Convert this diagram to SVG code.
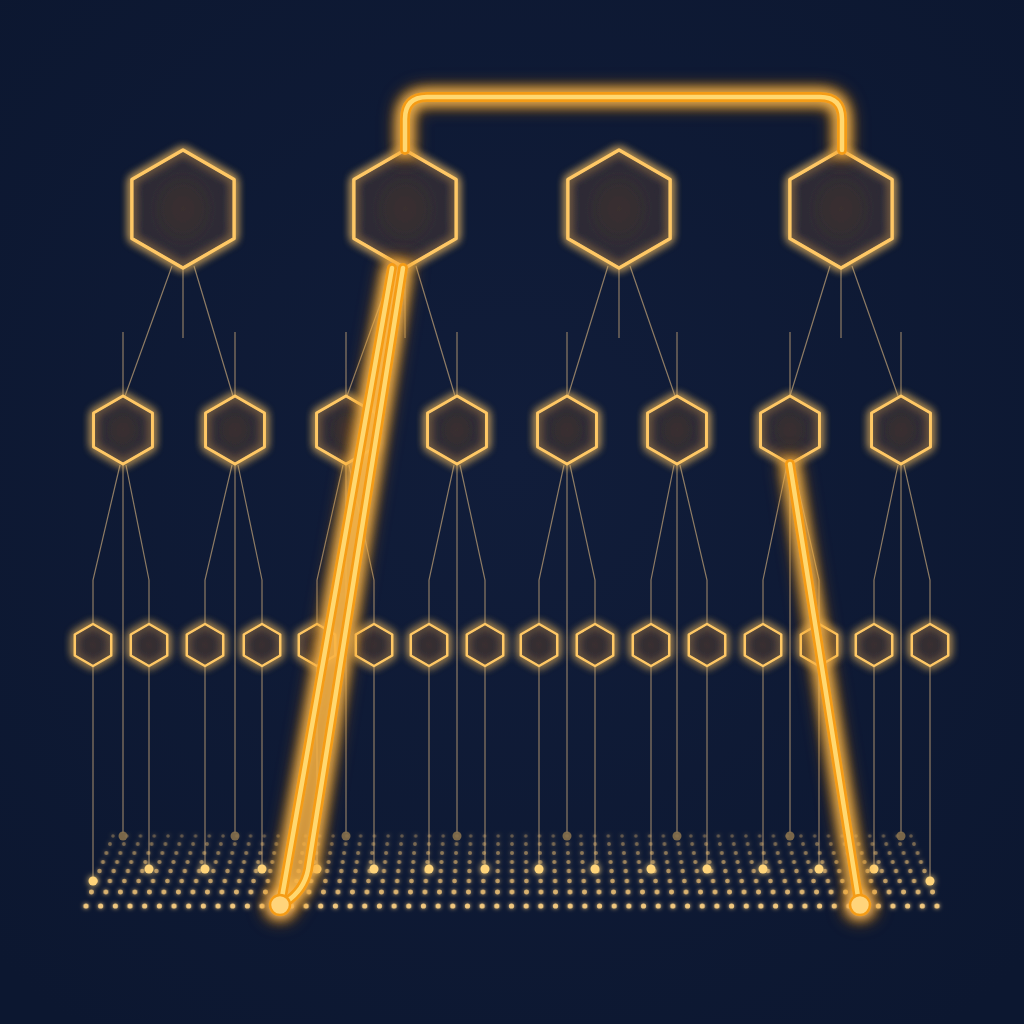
<svg xmlns="http://www.w3.org/2000/svg" width="1024" height="1024" viewBox="0 0 1024 1024">
<defs>
<radialGradient id="bg" cx="50%" cy="45%" r="70%"><stop offset="0" stop-color="#111d3a"/><stop offset="1" stop-color="#0c1730"/></radialGradient>
<radialGradient id="hexfill" cx="50%" cy="50%" r="50%"><stop offset="0" stop-color="#3a3030" stop-opacity="0.85"/><stop offset="1" stop-color="#2a2a38" stop-opacity="0.7"/></radialGradient>
<filter id="glow" x="-50%" y="-50%" width="200%" height="200%"><feGaussianBlur in="SourceGraphic" stdDeviation="5" result="b"/><feMerge><feMergeNode in="b"/><feMergeNode in="b"/><feMergeNode in="SourceGraphic"/></feMerge></filter>
<filter id="glowD" x="-100%" y="-100%" width="300%" height="300%"><feGaussianBlur in="SourceGraphic" stdDeviation="3" result="b"/><feMerge><feMergeNode in="b"/><feMergeNode in="SourceGraphic"/></feMerge></filter>
<filter id="glowS" x="-50%" y="-50%" width="200%" height="200%"><feGaussianBlur in="SourceGraphic" stdDeviation="7" result="b"/><feMerge><feMergeNode in="b"/><feMergeNode in="b"/><feMergeNode in="SourceGraphic"/></feMerge></filter>
<filter id="halo" x="-50%" y="-50%" width="200%" height="200%"><feGaussianBlur in="SourceGraphic" stdDeviation="9"/></filter>
<filter id="soft" x="-10%" y="-100%" width="120%" height="300%"><feGaussianBlur in="SourceGraphic" stdDeviation="2" result="b"/><feMerge><feMergeNode in="b"/><feMergeNode in="SourceGraphic"/></feMerge></filter>
<path id="hL" d="M0,-59 L51.1,-29.5 L51.1,29.5 L0,59 L-51.1,29.5 L-51.1,-29.5 Z"/>
<path id="hM" d="M0,-34 L29.44,-17 L29.44,17 L0,34 L-29.44,17 L-29.44,-17 Z"/>
<path id="hS" d="M0,-21 L18.19,-10.5 L18.19,10.5 L0,21 L-18.19,10.5 L-18.19,-10.5 Z"/>
<pattern id="r0" patternUnits="userSpaceOnUse" x="106.12" y="831" width="13.759" height="10"><circle cx="6.88" cy="5" r="1.8" fill="#f2c274"/></pattern>
<pattern id="r1" patternUnits="userSpaceOnUse" x="103.07" y="839" width="13.862" height="10"><circle cx="6.93" cy="5" r="1.9" fill="#f2c274"/></pattern>
<pattern id="r2" patternUnits="userSpaceOnUse" x="99.41" y="848" width="13.986" height="10"><circle cx="6.99" cy="5" r="2" fill="#f2c274"/></pattern>
<pattern id="r3" patternUnits="userSpaceOnUse" x="95.95" y="857" width="14.103" height="10"><circle cx="7.05" cy="5" r="2.1" fill="#f2c274"/></pattern>
<pattern id="r4" patternUnits="userSpaceOnUse" x="92.39" y="866" width="14.224" height="10"><circle cx="7.11" cy="5" r="2.2" fill="#f2c274"/></pattern>
<pattern id="r5" patternUnits="userSpaceOnUse" x="88.42" y="876" width="14.359" height="10"><circle cx="7.18" cy="5" r="2.3" fill="#f2c274"/></pattern>
<pattern id="r6" patternUnits="userSpaceOnUse" x="84.15" y="887" width="14.503" height="10"><circle cx="7.25" cy="5" r="2.45" fill="#f4c678"/></pattern>
<pattern id="r7" patternUnits="userSpaceOnUse" x="78.66" y="901" width="14.672" height="10"><circle cx="7.34" cy="5" r="2.6" fill="#f7cc80"/></pattern>
</defs>
<style>
.hex{fill:url(#hexfill);stroke:#ffc865;stroke-linejoin:round}
.big{stroke-width:3.5}
.med{stroke-width:3}
.sml{stroke-width:2.5}
.thin{stroke:#b89c74;stroke-width:1.2;fill:none;stroke-opacity:0.75}
.hot{fill:#ffd47a}
.dim{fill:#8c744e}
.strH{stroke:#f28c0c;stroke-width:18;fill:none;stroke-linecap:round;stroke-linejoin:round;stroke-opacity:0.55}
.strO{stroke:#f59c16;stroke-width:10;fill:none;stroke-linecap:round;stroke-linejoin:round}
.strI{stroke:#ffd870;stroke-width:4.5;fill:none;stroke-linecap:round;stroke-linejoin:round}
</style>
<rect width="1024" height="1024" fill="url(#bg)"/>

<g id="connectors">
<g class="thin">
<path d="M172,266 L125,396 M194,266 L233,396 M183,268 L183,338"/>
<path d="M394,266 L347,396 M416,266 L455,396 M405,268 L405,338"/>
<path d="M608,266 L568,396 M630,266 L675,396 M619,268 L619,338"/>
<path d="M830,266 L790,396 M852,266 L898,396 M841,268 L841,338"/>
<path d="M123,332 V396 M235,332 V396 M346,332 V396 M457,332 V396 M567,332 V396 M677,332 V396 M790,332 V396 M901,332 V396"/>
<path d="M123,464 V833 M235,464 V833 M346,464 V833 M457,464 V833 M567,464 V833 M677,464 V833 M790,464 V833 M901,464 V833"/>
<path d="M120,465 L93,580 V624 M126,465 L149,580 V624"/>
<path d="M232,465 L205,580 V624 M238,465 L262,580 V624"/>
<path d="M343,465 L317,580 V624 M349,465 L374,580 V624"/>
<path d="M454,465 L429,580 V624 M460,465 L485,580 V624"/>
<path d="M564,465 L539,580 V624 M570,465 L595,580 V624"/>
<path d="M674,465 L651,580 V624 M680,465 L707,580 V624"/>
<path d="M787,465 L763,580 V624 M793,465 L819,580 V624"/>
<path d="M898,465 L874,580 V624 M904,465 L930,580 V624"/>
<path d="M93,666 V878 M149,666 V866 M205,666 V866 M262,666 V866 M317,666 V866 M374,666 V866 M429,666 V866 M485,666 V866 M539,666 V866 M595,666 V866 M651,666 V866 M707,666 V866 M763,666 V866 M819,666 V866 M874,666 V866 M930,666 V878"/>
</g>
</g>

<g id="grid" filter="url(#soft)">
<rect x="106.12" y="831" width="811.78" height="10" fill="url(#r0)" opacity="0.32"/>
<rect x="103.07" y="839" width="817.86" height="10" fill="url(#r1)" opacity="0.4"/>
<rect x="99.41" y="848" width="825.17" height="10" fill="url(#r2)" opacity="0.48"/>
<rect x="95.95" y="857" width="832.08" height="10" fill="url(#r3)" opacity="0.56"/>
<rect x="92.39" y="866" width="839.22" height="10" fill="url(#r4)" opacity="0.64"/>
<rect x="88.42" y="876" width="847.18" height="10" fill="url(#r5)" opacity="0.72"/>
<rect x="84.15" y="887" width="855.68" height="10" fill="url(#r6)" opacity="0.82"/>
<rect x="78.66" y="901" width="865.65" height="10" fill="url(#r7)" opacity="0.95"/>
</g>

<g id="endpoints">
<g opacity="0.85"><circle class="dim" cx="123" cy="836" r="4.5"/><circle class="dim" cx="235" cy="836" r="4.5"/><circle class="dim" cx="346" cy="836" r="4.5"/><circle class="dim" cx="457" cy="836" r="4.5"/><circle class="dim" cx="567" cy="836" r="4.5"/><circle class="dim" cx="677" cy="836" r="4.5"/><circle class="dim" cx="790" cy="836" r="4.5"/><circle class="dim" cx="901" cy="836" r="4.5"/></g>
<g filter="url(#glowD)">
<circle class="hot" cx="93" cy="881" r="4.5"/><circle class="hot" cx="930" cy="881" r="4.5"/>
<circle class="hot" cx="149" cy="869" r="4.5"/><circle class="hot" cx="205" cy="869" r="4.5"/><circle class="hot" cx="262" cy="869" r="4.5"/><circle class="hot" cx="317" cy="869" r="4.5"/><circle class="hot" cx="374" cy="869" r="4.5"/><circle class="hot" cx="429" cy="869" r="4.5"/><circle class="hot" cx="485" cy="869" r="4.5"/><circle class="hot" cx="539" cy="869" r="4.5"/><circle class="hot" cx="595" cy="869" r="4.5"/><circle class="hot" cx="651" cy="869" r="4.5"/><circle class="hot" cx="707" cy="869" r="4.5"/><circle class="hot" cx="763" cy="869" r="4.5"/><circle class="hot" cx="819" cy="869" r="4.5"/><circle class="hot" cx="874" cy="869" r="4.5"/>
</g>
</g>

<g id="nodes" filter="url(#glow)">
<g id="L1"><use href="#hL" class="hex big" x="183" y="209"/></g>
<g id="L2"><use href="#hL" class="hex big" x="405" y="209"/></g>
<g id="L3"><use href="#hL" class="hex big" x="619" y="209"/></g>
<g id="L4"><use href="#hL" class="hex big" x="841" y="209"/></g>
<g id="M1"><use href="#hM" class="hex med" x="123" y="430"/></g>
<g id="M2"><use href="#hM" class="hex med" x="235" y="430"/></g>
<g id="M3"><use href="#hM" class="hex med" x="346" y="430"/></g>
<g id="M4"><use href="#hM" class="hex med" x="457" y="430"/></g>
<g id="M5"><use href="#hM" class="hex med" x="567" y="430"/></g>
<g id="M6"><use href="#hM" class="hex med" x="677" y="430"/></g>
<g id="M7"><use href="#hM" class="hex med" x="790" y="430"/></g>
<g id="M8"><use href="#hM" class="hex med" x="901" y="430"/></g>
<g id="S1"><use href="#hS" class="hex sml" x="93" y="645"/></g>
<g id="S2"><use href="#hS" class="hex sml" x="149" y="645"/></g>
<g id="S3"><use href="#hS" class="hex sml" x="205" y="645"/></g>
<g id="S4"><use href="#hS" class="hex sml" x="262" y="645"/></g>
<g id="S5"><use href="#hS" class="hex sml" x="317" y="645"/></g>
<g id="S6"><use href="#hS" class="hex sml" x="374" y="645"/></g>
<g id="S7"><use href="#hS" class="hex sml" x="429" y="645"/></g>
<g id="S8"><use href="#hS" class="hex sml" x="485" y="645"/></g>
<g id="S9"><use href="#hS" class="hex sml" x="539" y="645"/></g>
<g id="S10"><use href="#hS" class="hex sml" x="595" y="645"/></g>
<g id="S11"><use href="#hS" class="hex sml" x="651" y="645"/></g>
<g id="S12"><use href="#hS" class="hex sml" x="707" y="645"/></g>
<g id="S13"><use href="#hS" class="hex sml" x="763" y="645"/></g>
<g id="S14"><use href="#hS" class="hex sml" x="819" y="645"/></g>
<g id="S15"><use href="#hS" class="hex sml" x="874" y="645"/></g>
<g id="S16"><use href="#hS" class="hex sml" x="930" y="645"/></g>
</g>

<g id="highlight">
<g filter="url(#halo)">
<path class="strH" d="M405,150 V119 Q405,97 427,97 H820 Q842,97 842,119 V150"/>
<path class="strH" d="M392,268 L281,903"/>
<path class="strH" d="M403,268 L308,870 Q304,890 286,902"/>
<path class="strH" d="M790,464 L859,903"/>
<circle cx="280" cy="905" r="16" fill="#f28c0c" opacity="0.6"/>
<circle cx="860" cy="905" r="16" fill="#f28c0c" opacity="0.6"/>
</g>
<g filter="url(#glowS)">
<path class="strO" d="M405,150 V119 Q405,97 427,97 H820 Q842,97 842,119 V150"/>
<path class="strI" d="M405,150 V119 Q405,97 427,97 H820 Q842,97 842,119 V150"/>
<path class="strO" d="M392,268 L281,903"/>
<path class="strI" d="M392,268 L281,903"/>
<path class="strO" d="M403,268 L308,870 Q304,890 286,902"/>
<path class="strI" d="M403,268 L308,870 Q304,890 286,902"/>
<path class="strO" d="M790,464 L859,903"/>
<path class="strI" d="M790,464 L859,903"/>
<circle cx="280" cy="905" r="10" fill="#ffd47a" stroke="#f59c16" stroke-width="2.5"/>
<circle cx="860" cy="905" r="10" fill="#ffd47a" stroke="#f59c16" stroke-width="2.5"/>
</g>
</g>
</svg>
